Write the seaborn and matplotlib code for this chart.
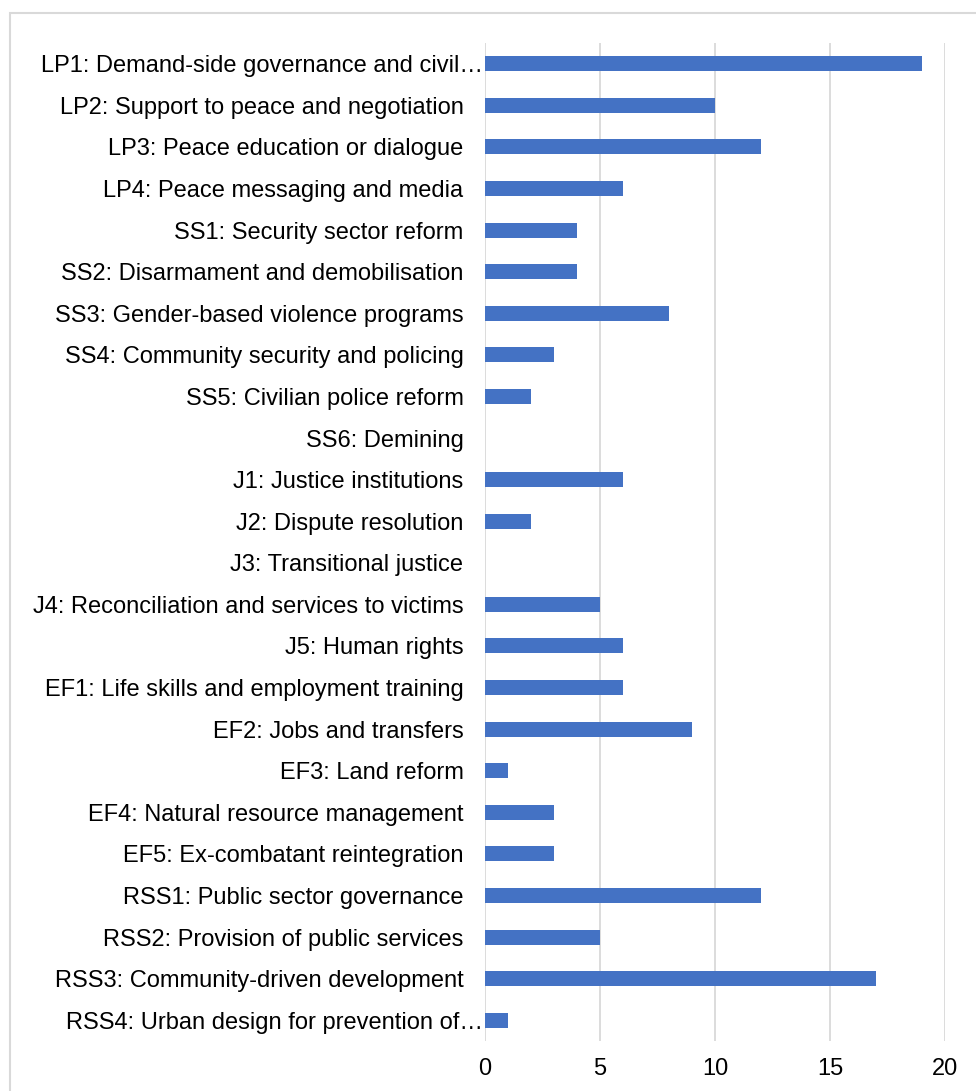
import matplotlib
matplotlib.use("Agg")
import matplotlib.pyplot as plt
import matplotlib.transforms as mtransforms
import seaborn as sns
import pandas as pd
from matplotlib.patches import Rectangle

categories = [
    "LP1: Demand-side governance and civil…",
    "LP2: Support to peace and negotiation",
    "LP3: Peace education or dialogue",
    "LP4: Peace messaging and media",
    "SS1: Security sector reform",
    "SS2: Disarmament and demobilisation",
    "SS3: Gender-based violence programs",
    "SS4: Community security and policing",
    "SS5: Civilian police reform",
    "SS6: Demining",
    "J1: Justice institutions",
    "J2: Dispute resolution",
    "J3: Transitional justice",
    "J4: Reconciliation and services to victims",
    "J5: Human rights",
    "EF1: Life skills and employment training",
    "EF2: Jobs and transfers",
    "EF3: Land reform",
    "EF4: Natural resource management",
    "EF5: Ex-combatant reintegration",
    "RSS1: Public sector governance",
    "RSS2: Provision of public services",
    "RSS3: Community-driven development",
    "RSS4: Urban design for prevention of…",
]
values = [19, 10, 12, 6, 4, 4, 8, 3, 2, 0, 6, 2, 0, 5, 6, 6, 9, 1, 3, 3, 12, 5, 17, 1]
x_ticks = [0, 5, 10, 15, 20]

sns.set_theme(style="white")
plt.rcParams["font.family"] = ["Liberation Sans", "DejaVu Sans"]

W, H = 976, 1091
fig = plt.figure(figsize=(W / 100, H / 100), dpi=100)
fig.patch.set_facecolor("white")

# outer chart border (partly cropped in reference)
fig.patches.append(Rectangle((10 / W, -0.1), 1.2, (H - 13) / H + 0.1,
                             transform=fig.transFigure, fill=False,
                             edgecolor="#d9d9d9", linewidth=1.5, zorder=0))

ax = fig.add_axes([485 / W, 1 - 1041 / H, (945 - 485) / W, (1041 - 43) / H])

df = pd.DataFrame({"cat": categories, "val": values})
sns.barplot(data=df, x="val", y="cat", orient="h", color="#4472C4",
            width=0.36, saturation=1, linewidth=0, ax=ax, zorder=3)

ax.set_xlim(0, 20)
ax.set_ylim(len(categories) - 0.5, -0.5)
ax.set_xticks(x_ticks)
ax.set_xticklabels([str(t) for t in x_ticks])
ax.xaxis.grid(True, color="#d9d9d9", linewidth=1.3, zorder=0)
ax.yaxis.grid(False)
ax.set_axisbelow(True)
for s in ax.spines.values():
    s.set_visible(False)
ax.set_xlabel("")
ax.set_ylabel("")
ax.tick_params(axis="y", length=0, pad=15.5, labelsize=17, labelcolor="#000000")
ax.tick_params(axis="x", length=0, pad=12, labelsize=17, labelcolor="#000000")
ax.set_facecolor("white")

# truncated labels overflow to the right with their ellipsis
shift = mtransforms.ScaledTranslation(20 / 100, 0, fig.dpi_scale_trans)
for lab in ax.get_yticklabels():
    if lab.get_text().endswith("…"):
        lab.set_transform(lab.get_transform() + shift)

fig.savefig("out.png", dpi=100, facecolor="white")
